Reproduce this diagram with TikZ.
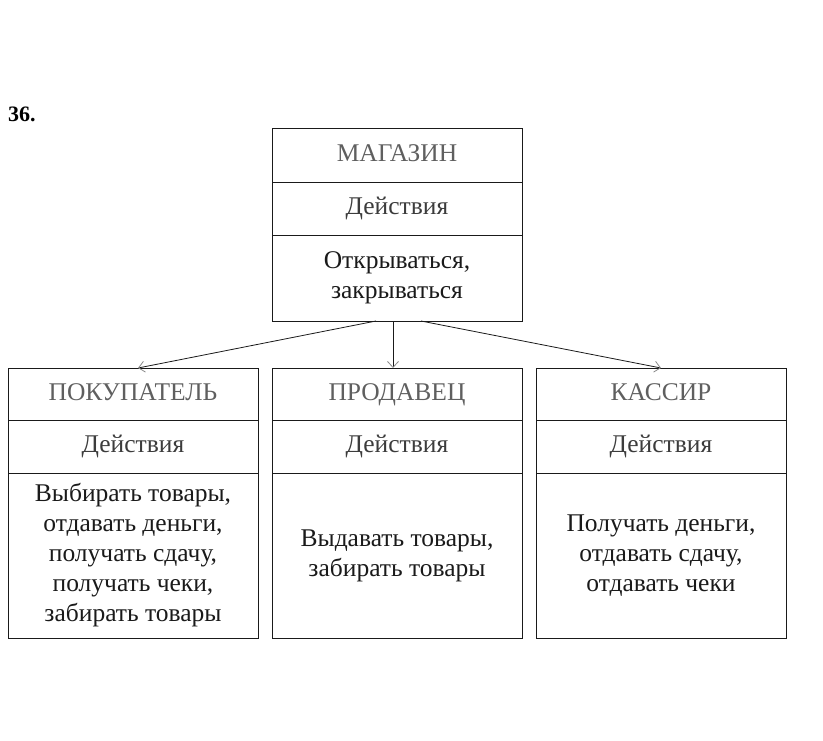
\documentclass[tikz,border=0pt]{standalone}
\usepackage{fontspec}
\setmainfont{Liberation Serif}
\usepackage{tikz}
\usetikzlibrary{arrows.meta, positioning}
\definecolor{mInk}{HTML}{1A1A1A}
\definecolor{mFaded}{HTML}{5F5F5F}
\definecolor{mTip}{HTML}{8A8A8A}

\begin{document}
\begin{tikzpicture}[x=1pt, y=-1pt, >={Straight Barb[length=6pt, width=11pt, color=mTip]},
  part/.style={draw=mInk, line width=0.8pt, minimum width=250pt, inner sep=0pt,
               outer sep=0pt, align=center, font=\fontsize{25.5}{30}\selectfont},
  headpart/.style={part, minimum height=53pt, text=mFaded, text height=17pt, text depth=5pt},
  actpart/.style={part, minimum height=53pt, text=mInk!85, text height=17pt, text depth=5pt},
  bodypart/.style={part, text=mInk}]
  \useasboundingbox (0,0) rectangle (823,740);
  \node[font=\fontsize{22}{24}\selectfont\bfseries, anchor=west, inner sep=0pt] (taskNo) at (8,114) {36.};
  % class: shop
  \node[headpart, minimum height=54pt] (shopHead) at (397,155) {МАГАЗИН};
  \node[actpart, below=0pt of shopHead] (shopAct) {Действия};
  \node[bodypart, minimum height=86pt, below=0pt of shopAct] (shopBody) {Открываться,\\закрываться};
  % classes below
  \node[headpart, minimum height=52pt] (buyerHead) at (133,394) {ПОКУПАТЕЛЬ};
  \node[actpart, below=0pt of buyerHead] (buyerAct) {Действия};
  \node[bodypart, minimum height=165pt, below=0pt of buyerAct] (buyerBody)
    {Выбирать товары,\\отдавать деньги,\\получать сдачу,\\получать чеки,\\забирать товары};
  \node[headpart, minimum height=52pt] (sellerHead) at (397,394) {ПРОДАВЕЦ};
  \node[actpart, below=0pt of sellerHead] (sellerAct) {Действия};
  \node[bodypart, minimum height=165pt, below=0pt of sellerAct] (sellerBody)
    {Выдавать товары,\\забирать товары};
  \node[headpart, minimum height=52pt] (cashierHead) at (661,394) {КАССИР};
  \node[actpart, below=0pt of cashierHead] (cashierAct) {Действия};
  \node[bodypart, minimum height=165pt, below=0pt of cashierAct] (cashierBody)
    {Получать деньги,\\отдавать сдачу,\\отдавать чеки};
  % links
  \draw[->, mInk, line width=0.8pt] ([xshift=-21pt]shopBody.south) -- ([xshift=5pt]buyerHead.north);
  \draw[->, mInk, line width=0.8pt] ([xshift=-4pt]shopBody.south) -- ([xshift=-4pt]sellerHead.north);
  \draw[->, mInk, line width=0.8pt] ([xshift=24pt]shopBody.south) -- (cashierHead.north);
\end{tikzpicture}
\end{document}
